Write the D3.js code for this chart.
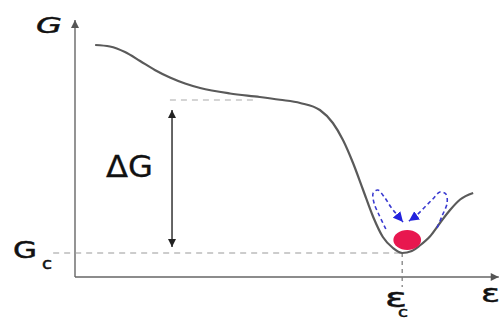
<!DOCTYPE html>
<html><head><meta charset="utf-8">
<script src="https://cdnjs.cloudflare.com/ajax/libs/d3/7.8.5/d3.min.js"></script>
<style>html,body{margin:0;padding:0;background:#fff}svg{display:block}</style>
</head><body>
<svg id="c" width="500" height="320"></svg>
<script>
// energy profile G(ε)
const curveEps = [4.8, 8.3, 11.9, 15.5, 19.0, 22.6, 26.2, 29.8, 36.9, 44.0, 48.8, 53.6, 58.3, 61.4, 63.8, 66.2, 68.6, 71.0, 73.3, 75.7, 77.9, 80.2, 82.1, 84.5, 86.9, 89.3, 91.7, 94.8];
const curveG   = [92.8, 92.2, 90.0, 86.4, 82.8, 79.8, 77.4, 75.6, 73.4, 72.0, 70.9, 69.6, 66.8, 61.6, 54.8, 45.6, 34.8, 24.0, 16.0, 11.6, 9.6, 10.4, 12.6, 16.2, 21.6, 26.8, 31.0, 33.6];
// key levels
const epsC = 77.9, gC = 9.6, gMeta = 70.8;
const metaDashEps = [22.6, 43.3];
const deltaArrowEps = 23.1, deltaArrowG = [66.8, 12.0];
// fluctuation loops (blue dashed)
const leftLoopEps  = [74.0, 72.4, 71.2, 71.0, 72.1, 73.8, 75.2, 76.7, 78.1];
const leftLoopG    = [19.2, 24.8, 29.6, 33.6, 34.8, 31.6, 28.0, 24.8, 22.0];
const rightLoopEps = [86.2, 87.4, 88.6, 88.3, 86.9, 85.2, 83.3, 81.4, 79.5];
const rightLoopG   = [19.6, 24.4, 29.6, 33.2, 34.0, 31.2, 28.0, 24.8, 22.4];
// particle at the minimum
const particle = {eps: 79.1, g: 14.8, rEps: 3.3, rG: 4.0};
// labels
const labels = {G: "G", Gc: "G", GcSub: "c", dG: "ΔG", epsC: "ε", epsCSub: "c", eps: "ε"};

const svg = d3.select("#c");
const x = d3.scaleLinear().domain([0, 100]).range([75, 495]);
const y = d3.scaleLinear().domain([0, 100]).range([277, 27]);

const defs = svg.append("defs");
function marker(id, color, w, h, orient) {
  defs.append("marker").attr("id", id).attr("viewBox", "0 0 10 10").attr("refX", 10).attr("refY", 5)
    .attr("markerWidth", w).attr("markerHeight", h).attr("markerUnits", "userSpaceOnUse").attr("orient", orient)
    .append("path").attr("d", "M0,0L10,5L0,10Z").attr("fill", color);
}
marker("ax", "#555", 10, 8, "auto");
marker("dg", "#222", 10, 8, "auto-start-reverse");
marker("bl", "#2222dd", 10, 11, "auto");

// axes
svg.append("line").attr("x1", x(0)).attr("y1", y(0)).attr("x2", x(0)).attr("y2", y(102.8))
  .attr("stroke", "#666").attr("stroke-width", 1.4).attr("marker-end", "url(#ax)");
svg.append("line").attr("x1", x(0)).attr("y1", y(0)).attr("x2", x(100.9)).attr("y2", y(0))
  .attr("stroke", "#666").attr("stroke-width", 1.4).attr("marker-end", "url(#ax)");

// dashed guides
const dash = "6,5";
svg.append("line").attr("x1", x(-5.2)).attr("x2", x(epsC)).attr("y1", y(gC)).attr("y2", y(gC))
  .attr("stroke", "#999").attr("stroke-width", 1.2).attr("stroke-dasharray", dash);
svg.append("line").attr("x1", x(epsC)).attr("x2", x(epsC)).attr("y1", y(gC)).attr("y2", y(-4))
  .attr("stroke", "#777").attr("stroke-width", 1.2).attr("stroke-dasharray", "4,4");
svg.append("line").attr("x1", x(metaDashEps[0])).attr("x2", x(metaDashEps[1])).attr("y1", y(gMeta)).attr("y2", y(gMeta))
  .attr("stroke", "#aaa").attr("stroke-width", 1.2).attr("stroke-dasharray", dash);

// ΔG double arrow
svg.append("line").attr("x1", x(deltaArrowEps)).attr("x2", x(deltaArrowEps))
  .attr("y1", y(deltaArrowG[0])).attr("y2", y(deltaArrowG[1]))
  .attr("stroke", "#333").attr("stroke-width", 1.5)
  .attr("marker-start", "url(#dg)").attr("marker-end", "url(#dg)");

// main curve
const smooth = d3.line().x(d => x(d[0])).y(d => y(d[1])).curve(d3.curveMonotoneX);
svg.append("path").datum(d3.zip(curveEps, curveG)).attr("d", smooth)
  .attr("fill", "none").attr("stroke", "#5a5a5a").attr("stroke-width", 2.2);

// blue loops
const loop = d3.line().x(d => x(d[0])).y(d => y(d[1])).curve(d3.curveCatmullRom.alpha(0.5));
[[leftLoopEps, leftLoopG], [rightLoopEps, rightLoopG]].forEach(([e, g]) => {
  svg.append("path").datum(d3.zip(e, g)).attr("d", loop)
    .attr("fill", "none").attr("stroke", "#3a3ad0").attr("stroke-width", 1.6)
    .attr("stroke-dasharray", "4,3").attr("marker-end", "url(#bl)");
});

// red particle
svg.append("ellipse").attr("cx", x(particle.eps)).attr("cy", y(particle.g))
  .attr("rx", x(particle.rEps) - x(0)).attr("ry", y(0) - y(particle.rG))
  .attr("fill", "#e8174f");

// labels
const font = "DejaVu Sans, Verdana, sans-serif";
function txt(s, px, py, size, len, style) {
  return svg.append("text").attr("x", px).attr("y", py).attr("font-family", font).attr("font-size", size)
    .attr("font-style", style || "normal").attr("fill", "#111").attr("stroke", "#111").attr("stroke-width", 0.5)
    .attr("textLength", len).attr("lengthAdjust", "spacingAndGlyphs").text(s);
}
txt(labels.G, 36, 33, 22, 26, "italic");
txt(labels.Gc, 13, 258, 23, 24);
txt(labels.GcSub, 42, 269, 15, 10);
txt(labels.dG, 106, 177, 30, 47).attr("stroke-width", 0.3);
txt(labels.epsC, 385, 307, 26, 22);
txt(labels.epsCSub, 398, 317, 14, 10);
txt(labels.eps, 481, 302, 24, 19);
</script>
</body></html>
